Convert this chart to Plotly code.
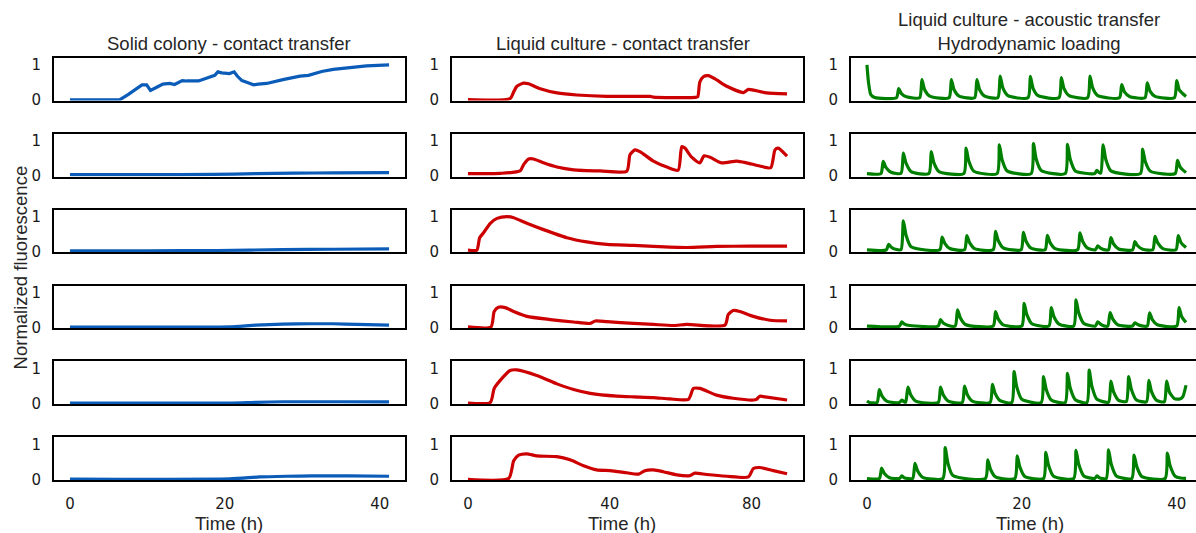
import plotly.graph_objects as go

# ---- Solid colony - contact transfer (time in h, normalized fluorescence) ----
solid_1 = [(0, 0), (6.4, 0), (7.5, 0.15), (8.6, 0.33), (9.3, 0.43), (9.9, 0.43), (10.4, 0.27),
           (11.2, 0.36), (12.0, 0.45), (12.9, 0.47), (13.5, 0.44), (14.5, 0.55), (15.1, 0.54),
           (16.6, 0.54), (17.8, 0.64), (18.7, 0.70), (19.1, 0.80), (19.6, 0.77), (20.6, 0.75),
           (21.2, 0.80), (21.6, 0.68), (22.2, 0.55), (23.0, 0.49), (23.7, 0.43), (24.3, 0.45),
           (25.4, 0.47), (27.5, 0.58), (29.7, 0.68), (30.8, 0.70), (32.5, 0.81), (34.0, 0.87),
           (36.1, 0.91), (38.3, 0.97), (41.2, 1.0)]
solid_2 = [(0, 0.035), (10, 0.035), (18.5, 0.04), (24, 0.06), (29, 0.075), (34, 0.085), (41.2, 0.09)]
solid_3 = [(0, 0.025), (10, 0.027), (19, 0.035), (27.5, 0.06), (34, 0.07), (41.2, 0.08)]
solid_4 = [(0, 0.015), (15, 0.015), (20.6, 0.02), (24, 0.07), (27.5, 0.1), (31, 0.11), (34, 0.11),
           (37, 0.09), (41.2, 0.07)]
solid_5 = [(0, 0.01), (20.6, 0.015), (24, 0.035), (27.5, 0.05), (35, 0.05), (41.2, 0.045)]
solid_6 = [(0, 0.01), (20.6, 0.015), (24.5, 0.07), (28, 0.09), (31.3, 0.1), (36, 0.1), (41.2, 0.09)]

# ---- Liquid culture - contact transfer ----
liquid_1 = [(0, 0.01), (11.9, 0.04), (12.9, 0.23), (13.8, 0.39), (15.7, 0.48), (17.1, 0.46),
            (20.4, 0.32), (25.1, 0.2), (30.7, 0.14), (39.2, 0.1), (51.4, 0.1), (52.3, 0.08),
            (64.0, 0.07), (64.8, 0.09), (65.4, 0.51), (66.4, 0.66), (67.8, 0.69), (69.7, 0.6),
            (73.0, 0.39), (77.7, 0.21), (79.1, 0.3), (80.5, 0.28), (84.2, 0.2), (90, 0.17)]
liquid_2 = [(0, 0.065), (9.1, 0.07), (14.7, 0.14), (15.7, 0.32), (17.1, 0.48), (18.5, 0.48),
            (21.3, 0.37), (25.1, 0.25), (29.8, 0.17), (37.3, 0.14), (44.8, 0.13), (45.7, 0.6),
            (47.1, 0.74), (48.5, 0.69), (52.3, 0.42), (56.1, 0.25), (59.3, 0.16), (60.3, 0.83),
            (61.2, 0.79), (63.1, 0.53), (65.4, 0.37), (66.6, 0.57), (68.3, 0.53), (71.5, 0.37),
            (75.8, 0.42), (78.6, 0.37), (82.3, 0.28), (85.4, 0.23), (86.6, 0.74), (87.5, 0.79),
            (90, 0.56)]
liquid_3 = [(0, 0.045), (2.5, 0.045), (3.3, 0.4), (4.4, 0.54), (6.3, 0.81), (8.2, 0.95), (11.0, 1.0),
            (12.9, 0.97), (16.6, 0.81), (21.3, 0.63), (27.9, 0.4), (33.5, 0.28), (39.2, 0.21),
            (46.7, 0.18), (52.3, 0.15), (61.7, 0.12), (70.1, 0.15), (79.5, 0.16), (90, 0.16)]
liquid_4 = [(0, 0.02), (6.5, 0.02), (7.4, 0.46), (8.6, 0.58), (10.5, 0.57), (12.9, 0.46), (16.6, 0.32),
            (23.2, 0.23), (29.8, 0.16), (34.5, 0.12), (35.9, 0.19), (39.2, 0.17), (46.7, 0.12),
            (52.3, 0.09), (57.9, 0.06), (61.7, 0.09), (72.5, 0.07), (73.4, 0.37), (74.8, 0.49),
            (76.7, 0.46), (80.5, 0.32), (85.2, 0.21), (90, 0.19)]
liquid_5 = [(0, 0.01), (6.3, 0.03), (7.4, 0.43), (9.1, 0.66), (11.9, 0.94), (13.8, 0.96), (19.4, 0.8),
            (25.1, 0.56), (29.8, 0.4), (34.5, 0.29), (42.0, 0.21), (46.7, 0.19), (52.3, 0.17),
            (57.0, 0.13), (62.2, 0.12), (63.6, 0.43), (65.4, 0.43), (70.1, 0.24), (74.8, 0.15),
            (80.5, 0.1), (81.4, 0.12), (82.3, 0.21), (83.8, 0.19), (90, 0.1)]
liquid_6 = [(0, 0.0), (11.5, 0.03), (12.9, 0.53), (14.3, 0.69), (16.6, 0.73), (19.4, 0.67), (25.1, 0.65),
            (28.8, 0.56), (32.6, 0.39), (36.3, 0.27), (40.1, 0.25), (44.8, 0.19), (48.1, 0.15),
            (49.9, 0.25), (52.3, 0.27), (55.1, 0.22), (58.9, 0.13), (62.6, 0.11), (64.0, 0.18),
            (67.3, 0.14), (73.0, 0.09), (79.1, 0.07), (80.5, 0.31), (82.3, 0.34), (86.1, 0.25),
            (90, 0.16)]

# ---- Liquid culture - acoustic transfer, hydrodynamic loading ----
acoustic_1 = [(0, 1.0), (0.2, 0.5), (0.5, 0.15), (1.0, 0.07),
              (3.8, 0.06), (4.1, 0.32), (4.45, 0.18), (5.1, 0.09),
              (6.8, 0.06), (7.1, 0.58), (7.45, 0.29), (8.1, 0.11),
              (10.6, 0.06), (10.9, 0.58), (11.25, 0.29), (11.9, 0.11),
              (13.9, 0.06), (14.2, 0.58), (14.55, 0.29), (15.2, 0.11),
              (16.9, 0.06), (17.2, 0.68), (17.55, 0.34), (18.2, 0.12),
              (20.8, 0.06), (21.1, 0.67), (21.45, 0.33), (22.1, 0.12),
              (24.8, 0.06), (25.1, 0.64), (25.45, 0.32), (26.1, 0.12),
              (28.5, 0.06), (28.8, 0.68), (29.15, 0.34), (29.8, 0.12),
              (32.6, 0.06), (32.9, 0.44), (33.25, 0.23), (33.9, 0.10),
              (35.9, 0.06), (36.2, 0.49), (36.55, 0.25), (37.2, 0.10),
              (39.7, 0.06), (40.0, 0.55), (40.35, 0.28), (41.2, 0.10)]
acoustic_2 = [(0, 0.063),
              (1.8, 0.063), (2.1, 0.415), (2.45, 0.24), (3.1, 0.1),
              (4.4, 0.07), (4.7, 0.65), (5.05, 0.36), (5.7, 0.12),
              (8.0, 0.063), (8.3, 0.69), (8.65, 0.37), (9.3, 0.12),
              (12.5, 0.063), (12.8, 0.79), (13.15, 0.42), (13.8, 0.13),
              (16.8, 0.063), (17.1, 0.88), (17.45, 0.46), (18.1, 0.14),
              (21.2, 0.063), (21.5, 0.92), (21.85, 0.48), (22.5, 0.15),
              (25.6, 0.063), (25.9, 0.9), (26.25, 0.47), (26.9, 0.14),
              (29.4, 0.063), (29.7, 0.156), (29.95, 0.1),
              (30.2, 0.08), (30.5, 0.88), (30.85, 0.46), (31.5, 0.14),
              (35.3, 0.063), (35.6, 0.76), (35.95, 0.4), (36.6, 0.13),
              (39.8, 0.063), (40.1, 0.44), (40.45, 0.25), (41.2, 0.09)]
acoustic_3 = [(0, 0.054),
              (2.5, 0.054), (2.8, 0.21), (3.15, 0.13), (3.7, 0.07),
              (4.4, 0.06), (4.7, 0.88), (5.05, 0.47), (5.7, 0.14),
              (9.4, 0.054), (9.7, 0.42), (10.05, 0.24), (10.7, 0.09),
              (12.6, 0.054), (12.9, 0.46), (13.25, 0.26), (13.9, 0.09),
              (16.3, 0.054), (16.6, 0.58), (16.95, 0.32), (17.6, 0.11),
              (19.9, 0.054), (20.2, 0.55), (20.55, 0.3), (21.2, 0.1),
              (23.0, 0.054), (23.3, 0.47), (23.65, 0.26), (24.3, 0.09),
              (27.2, 0.054), (27.5, 0.54), (27.85, 0.3), (28.5, 0.1),
              (29.5, 0.054), (29.8, 0.165), (30.15, 0.1), (30.6, 0.06),
              (31.2, 0.054), (31.5, 0.4), (31.85, 0.22), (32.5, 0.08),
              (34.3, 0.054), (34.6, 0.29), (34.95, 0.17), (35.6, 0.07),
              (36.9, 0.054), (37.2, 0.44), (37.55, 0.25), (38.2, 0.09),
              (39.9, 0.054), (40.2, 0.46), (40.55, 0.26), (41.2, 0.12)]
acoustic_4 = [(0, 0.045),
              (4.2, 0.045), (4.5, 0.165), (4.85, 0.1), (5.5, 0.06),
              (9.2, 0.045), (9.5, 0.23), (9.85, 0.13), (10.5, 0.06),
              (11.4, 0.045), (11.7, 0.51), (12.05, 0.28), (12.7, 0.09),
              (16.3, 0.045), (16.6, 0.46), (16.95, 0.25), (17.6, 0.08),
              (20.0, 0.045), (20.3, 0.69), (20.65, 0.37), (21.3, 0.11),
              (23.5, 0.045), (23.8, 0.57), (24.15, 0.31), (24.8, 0.1),
              (26.7, 0.045), (27.0, 0.79), (27.35, 0.42), (28.0, 0.12),
              (29.5, 0.045), (29.8, 0.165), (30.15, 0.1), (30.6, 0.05),
              (31.1, 0.045), (31.4, 0.43), (31.75, 0.24), (32.4, 0.08),
              (34.3, 0.045), (34.6, 0.14), (34.95, 0.09), (35.5, 0.05),
              (36.2, 0.045), (36.5, 0.42), (36.85, 0.23), (37.5, 0.08),
              (40.0, 0.045), (40.3, 0.57), (40.65, 0.31), (41.2, 0.15)]
acoustic_5 = [(0, 0.07), (0.3, 0.03),
              (1.3, 0.026), (1.6, 0.4), (1.95, 0.21), (2.6, 0.06),
              (4.2, 0.026), (4.5, 0.1), (4.8, 0.05),
              (5.0, 0.04), (5.3, 0.47), (5.65, 0.25), (6.3, 0.07),
              (9.2, 0.026), (9.5, 0.47), (9.85, 0.25), (10.5, 0.07),
              (12.3, 0.026), (12.6, 0.5), (12.95, 0.26), (13.6, 0.07),
              (15.9, 0.026), (16.2, 0.545), (16.55, 0.29), (17.2, 0.08),
              (18.7, 0.026), (19.0, 0.91), (19.35, 0.47), (20.0, 0.12),
              (22.5, 0.026), (22.8, 0.77), (23.15, 0.4), (23.8, 0.1),
              (25.6, 0.026), (25.9, 0.86), (26.25, 0.44), (26.9, 0.11),
              (28.4, 0.026), (28.7, 0.95), (29.05, 0.49), (29.7, 0.12),
              (31.2, 0.04), (31.5, 0.64), (31.85, 0.33), (32.5, 0.09),
              (33.5, 0.06), (33.8, 0.77), (34.15, 0.4), (34.8, 0.1),
              (36.1, 0.05), (36.4, 0.66), (36.75, 0.34), (37.4, 0.09),
              (38.4, 0.05), (38.7, 0.64), (39.05, 0.33), (39.7, 0.14),
              (40.4, 0.13), (40.8, 0.2), (41.2, 0.52)]
acoustic_6 = [(0, 0.026),
              (1.6, 0.026), (1.9, 0.32), (2.25, 0.17), (2.9, 0.05),
              (4.2, 0.026), (4.5, 0.1), (4.8, 0.05),
              (5.9, 0.026), (6.2, 0.46), (6.55, 0.24), (7.2, 0.06),
              (9.8, 0.026), (10.1, 0.91), (10.45, 0.47), (11.1, 0.11),
              (15.3, 0.026), (15.6, 0.56), (15.95, 0.29), (16.6, 0.07),
              (19.1, 0.026), (19.4, 0.67), (19.75, 0.35), (20.4, 0.08),
              (22.8, 0.026), (23.1, 0.77), (23.45, 0.4), (24.1, 0.09),
              (26.7, 0.026), (27.0, 0.83), (27.35, 0.43), (28.0, 0.1),
              (29.4, 0.026), (29.7, 0.1), (30.0, 0.05),
              (30.9, 0.026), (31.2, 0.84), (31.55, 0.43), (32.2, 0.1),
              (34.2, 0.026), (34.5, 0.69), (34.85, 0.36), (35.5, 0.08),
              (38.5, 0.026), (38.8, 0.75), (39.15, 0.39), (39.8, 0.09),
              (40.5, 0.04), (41.2, 0.03)]

column_titles = ["Solid colony - contact transfer",
                 "Liquid culture - contact transfer",
                 "Liquid culture - acoustic transfer<br>Hydrodynamic loading"]
column_colors = ["#0a5cb8", "#cc0000", "#008000"]
column_series = [
    [solid_1, solid_2, solid_3, solid_4, solid_5, solid_6],
    [liquid_1, liquid_2, liquid_3, liquid_4, liquid_5, liquid_6],
    [acoustic_1, acoustic_2, acoustic_3, acoustic_4, acoustic_5, acoustic_6],
]
x_tick_values = [[0, 20, 40], [0, 40, 80], [0, 20, 40]]
x_ranges = [[-2.06, 43.26], [-4.5, 94.5], [-2.06, 42.49]]
y_tick_values = [0, 1]
y_range = [-0.02, 1.2]

# ---- layout geometry (pixels) ----
W, H = 1196, 533
col_px = [(54, 405), (452, 803), (851, 1196)]
row_top = [57, 134.5, 212, 289.5, 367, 444.5]
row_h = 43.7

TICK_FONT = dict(family="DejaVu Sans", size=15, color="#1a1a1a")
TEXT_FONT = dict(family="Liberation Sans, Arial, Helvetica, sans-serif", size=18.5, color="#262626")

fig = go.Figure()
layout = {}
for r in range(6):
    for c in range(3):
        idx = r * 3 + c + 1
        xname = "x" if idx == 1 else f"x{idx}"
        yname = "y" if idx == 1 else f"y{idx}"
        pts = column_series[c][r]
        t = [p[0] for p in pts]
        v = [p[1] for p in pts]
        shape = "linear" if (c == 0 and r == 0) else "spline"
        fig.add_trace(go.Scatter(
            x=t, y=v, xaxis=xname, yaxis=yname, mode="lines",
            line=dict(color=column_colors[c], width=3.2, shape=shape, smoothing=0.6),
            showlegend=False, hoverinfo="skip",
        ))
        x0, x1 = col_px[c]
        y0 = row_top[r]
        y1 = y0 + row_h
        layout["xaxis" if idx == 1 else f"xaxis{idx}"] = dict(
            domain=[x0 / W, x1 / W], anchor=yname, range=x_ranges[c],
            tickvals=x_tick_values[c], showticklabels=(r == 5),
            ticks="outside", ticklen=9, tickcolor="rgba(0,0,0,0)",
            tickfont=TICK_FONT, showgrid=False, zeroline=False,
            showline=True, linecolor="black", linewidth=2, mirror=True,
        )
        layout["yaxis" if idx == 1 else f"yaxis{idx}"] = dict(
            domain=[1 - y1 / H, 1 - y0 / H], anchor=xname, range=y_range,
            tickvals=y_tick_values, ticks="outside", ticklen=8,
            tickcolor="rgba(0,0,0,0)", tickfont=TICK_FONT,
            showgrid=False, zeroline=False,
            showline=True, linecolor="black", linewidth=2, mirror=(c < 2),
        )

annotations = []
title_centers = [229, 623, 1029]
xlabel_centers = [229, 622, 1030]
for c in range(3):
    annotations.append(dict(
        text=column_titles[c], x=title_centers[c] / W, y=1 - 55 / H,
        xref="paper", yref="paper", xanchor="center", yanchor="bottom",
        showarrow=False, font=TEXT_FONT,
    ))
    annotations.append(dict(
        text="Time (h)", x=xlabel_centers[c] / W, y=0, yshift=-12,
        xref="paper", yref="paper", xanchor="center", yanchor="bottom",
        showarrow=False, font=TEXT_FONT,
    ))
annotations.append(dict(
    text="Normalized fluorescence", x=20 / W, y=1 - 271 / H,
    xref="paper", yref="paper", xanchor="center", yanchor="middle",
    textangle=-90, showarrow=False, font=TEXT_FONT,
))

fig.update_layout(
    width=W, height=H, margin=dict(l=0, r=0, t=0, b=0),
    paper_bgcolor="white", plot_bgcolor="white",
    annotations=annotations, **layout,
)
fig.write_html("out.html")
